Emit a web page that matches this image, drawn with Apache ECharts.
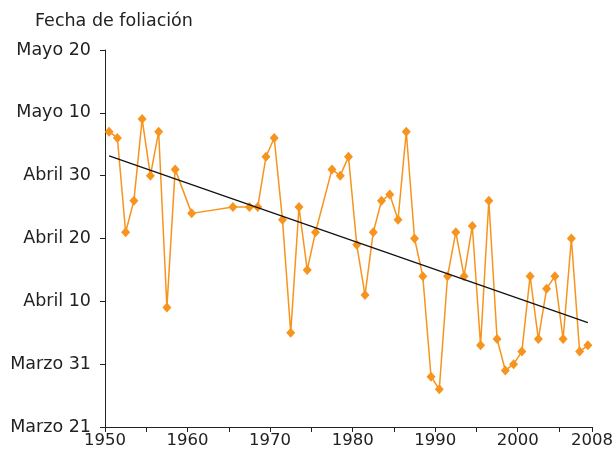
<!DOCTYPE html>
<html>
<head>
<meta charset="utf-8">
<script src="https://cdn.jsdelivr.net/npm/echarts@6/dist/echarts.min.js"></script>
<style>
html,body{margin:0;padding:0;background:#fff;}
#chart{width:616px;height:453px;}
</style>
</head>
<body>
<div id="chart"></div>
<script>
// Years with observations
var years = [1950,1951,1952,1953,1954,1955,1956,1957,1958,1960,
  1965,1967,1968,1969,1970,1971,1972,1973,1974,1975,
  1977,1978,1979,1980,1981,1982,1983,1984,1985,1986,1987,1988,
  1989,1990,1991,1992,1993,1994,1995,1996,1997,1998,1999,2000,
  2001,2002,2003,2004,2005,2006,2007,2008];
// Leafing date, days after March 21
var leafDays = [47,46,31,36,49,40,47,19,41,34,
  35,35,35,43,46,33,15,35,25,31,
  41,40,43,29,21,31,36,37,33,47,30,24,
  8,6,24,31,24,32,13,36,14,9,10,12,
  24,14,22,24,14,30,12,13];
var yTickLabels = ['Marzo 21','Marzo 31','Abril 10','Abril 20','Abril 30','Mayo 10','Mayo 20'];
var xTickValues = [1950,1960,1970,1980,1990,2000,2009];
var xTickText = ['1950','1960','1970','1980','1990','2000','2008'];

var pts = years.map(function(y,i){ return [y + 0.5, leafDays[i]]; });
// least squares trend
var n = pts.length, sx=0, sy=0, sxx=0, sxy=0;
pts.forEach(function(p){ sx+=p[0]; sy+=p[1]; sxx+=p[0]*p[0]; sxy+=p[0]*p[1]; });
var b = (n*sxy - sx*sy)/(n*sxx - sx*sx);
var a = (sy - b*sx)/n;
var x0 = pts[0][0], x1 = pts[n-1][0];
var trend = [[x0, a + b*x0],[x1, a + b*x1]];

var txt = '#222';
var chart = echarts.init(document.getElementById('chart'));
chart.setOption({
  animation:false,
  title:{text:'Fecha de foliación', left:30, top:7,
    textStyle:{fontFamily:'DejaVu Sans', fontSize:17.5, fontWeight:'normal', color:txt}},
  grid:{left:105, right:23, top:50, bottom:26, containLabel:false},
  xAxis:{type:'value', min:1950, max:2009, interval:5,
    axisLine:{lineStyle:{color:txt, width:1}},
    axisTick:{show:true, length:5, lineStyle:{color:txt}},
    splitLine:{show:false},
    axisLabel:{showMaxLabel:true, showMinLabel:true, margin:5,
      fontFamily:'DejaVu Sans', fontSize:16.5, color:txt,
      formatter:function(v){ var k = xTickValues.indexOf(v); return k>=0 ? xTickText[k] : ''; }}
  },
  yAxis:{type:'value', min:0, max:60, interval:10,
    axisLine:{show:true, lineStyle:{color:txt, width:1}},
    axisTick:{show:true, length:5, lineStyle:{color:txt}},
    splitLine:{show:false},
    axisLabel:{margin:14, fontFamily:'DejaVu Sans', fontSize:17.5, color:txt,
      formatter:function(v){ return yTickLabels[Math.round(v/10)]; }}
  },
  series:[
    {type:'line', data:pts, symbol:'diamond', symbolSize:[9,10],
      lineStyle:{color:'#F7941D', width:1.5},
      itemStyle:{color:'#F7941D'}, z:3},
    {type:'line', data:trend, symbol:'none',
      lineStyle:{color:'#111', width:1.2}, z:4}
  ]
});
</script>
</body>
</html>
